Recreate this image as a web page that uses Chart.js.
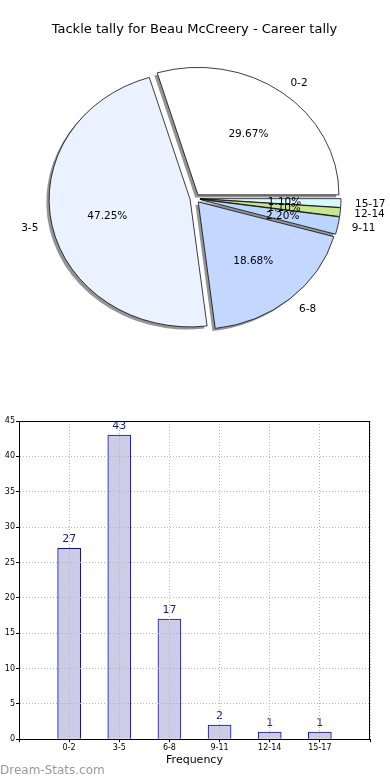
<!DOCTYPE html>
<html>
<head>
<meta charset="utf-8">
<script src="https://cdn.jsdelivr.net/npm/chart.js@4"></script>
<style>
  html, body { margin: 0; padding: 0; background: #fff; width: 390px; height: 780px; overflow: hidden; }
  #pie { position: absolute; left: 0; top: 0; }
  #bar { position: absolute; left: 0; top: 405px; }
  #wm { position: absolute; left: 0; top: 763px; font: 12px "DejaVu Sans", sans-serif; color: #9a9a9a; }
</style>
</head>
<body>
<canvas id="pie" width="390" height="400"></canvas>
<canvas id="bar" width="390" height="375"></canvas>
<div id="wm">Dream-Stats.com</div>
<script>
// ---- data ----
const chartTitle = 'Tackle tally for Beau McCreery - Career tally';
const categories = ['0-2', '3-5', '6-8', '9-11', '12-14', '15-17'];
const counts = [27, 43, 17, 2, 1, 1];
const pieColors = ['#ffffff', '#ebf2ff', '#c4d8ff', '#b8d6ff', '#c8e68c', '#d8f8ff'];
const yMax = 45;
const yStep = 5;
const xAxisTitle = 'Frequency';

const FONT = '"DejaVu Sans", sans-serif';
const total = counts.reduce((a, b) => a + b, 0);

// ---- pie (drawn clockwise from 3 o'clock, so feed the series reversed) ----
const pieLabels = categories.slice().reverse();
const pieData = counts.slice().reverse();
const pieBg = pieColors.slice().reverse();

const RY = 0.904;     // vertical squash of the pie
const EXPLODE = 5;    // explode distance
const pieFx = {
  id: 'pieFx',
  beforeDatasetsDraw(chart) {
    const ctx = chart.ctx;
    const arcs = chart.getDatasetMeta(0).data;
    const cx = arcs[0].x, cy = arcs[0].y;
    const pass = (shadow) => {
      arcs.forEach(a => {
        const m = (a.startAngle + a.endAngle) / 2;
        ctx.save();
        if (shadow) ctx.translate(-2.8, 2.6);
        ctx.translate(cx, cy); ctx.scale(1, RY); ctx.translate(-cx, -cy);
        ctx.translate(Math.cos(m) * EXPLODE, Math.sin(m) * EXPLODE);
        if (shadow) {
          ctx.beginPath();
          ctx.moveTo(a.x, a.y);
          ctx.arc(a.x, a.y, a.outerRadius, a.startAngle, a.endAngle);
          ctx.closePath();
          ctx.fillStyle = 'rgba(0,0,0,0.42)';
          ctx.fill();
        } else {
          a.draw(ctx);
        }
        ctx.restore();
      });
    };
    pass(true);
    pass(false);
    return false;
  },
  afterDraw(chart) {
    const ctx = chart.ctx;
    const arcs = chart.getDatasetMeta(0).data;
    ctx.save();
    ctx.fillStyle = '#000';
    ctx.textBaseline = 'middle';
    ctx.font = '13px ' + FONT;
    ctx.textAlign = 'center';
    ctx.fillText(chartTitle, 194.5, 30);
    ctx.font = '10.5px ' + FONT;
    arcs.forEach((a, i) => {
      const m = (a.startAngle + a.endAngle) / 2;
      const c = Math.cos(m), s = Math.sin(m);
      const R = a.outerRadius;
      // percentage inside
      const rp = 0.6 * R + EXPLODE;
      ctx.textAlign = 'center';
      ctx.fillText((pieData[i] / total * 100).toFixed(2) + '%', a.x + c * rp, a.y + s * rp * RY + 1);
      // category label outside
      const rl = 1.1 * R + EXPLODE;
      ctx.textAlign = c >= 0 ? 'left' : 'right';
      ctx.fillText(pieLabels[i], a.x + c * rl, a.y + s * rl * RY + 0.5);
    });
    ctx.restore();
  }
};

new Chart(document.getElementById('pie'), {
  type: 'pie',
  data: {
    labels: pieLabels,
    datasets: [{
      data: pieData,
      backgroundColor: pieBg,
      borderColor: '#000',
      borderWidth: 0.8
    }]
  },
  options: {
    responsive: false,
    animation: false,
    devicePixelRatio: 1,
    rotation: 90,
    radius: 141,
    layout: { padding: { left: 2, right: 2, top: 0, bottom: 3 } },
    plugins: { legend: { display: false }, tooltip: { enabled: false }, title: { display: false } },
    events: []
  },
  plugins: [pieFx]
});

// ---- bar chart ----
const barFx = {
  id: 'barFx',
  afterDatasetsDraw(chart) {
    const ctx = chart.ctx;
    const meta = chart.getDatasetMeta(0);
    ctx.save();
    ctx.fillStyle = '#1a1a96';
    ctx.font = '11px ' + FONT;
    ctx.textAlign = 'center';
    ctx.textBaseline = 'middle';
    meta.data.forEach((b, i) => {
      ctx.fillText(String(counts[i]), b.x, b.y - 9);
    });
    ctx.restore();
  },
  afterDraw(chart) {
    const ctx = chart.ctx;
    const a = chart.chartArea;
    ctx.save();
    ctx.strokeStyle = '#000';
    ctx.lineWidth = 1;
    ctx.strokeRect(Math.round(a.left) + 0.5, Math.round(a.top) + 0.5, Math.round(a.right - a.left) - 1, Math.round(a.bottom - a.top));
    ctx.restore();
  }
};

new Chart(document.getElementById('bar'), {
  type: 'bar',
  data: {
    datasets: [{
      data: counts.map((v, i) => ({ x: i + 1, y: v })),
      backgroundColor: '#ccccE6',
      borderColor: '#10108a',
      borderWidth: 1,
      barThickness: 23
    }]
  },
  options: {
    responsive: false,
    animation: false,
    devicePixelRatio: 1,
    events: [],
    layout: { padding: { left: 0, right: 20, top: 16, bottom: 13 } },
    plugins: { legend: { display: false }, tooltip: { enabled: false } },
    scales: {
      x: {
        type: 'linear',
        offset: false,
        min: 0,
        max: categories.length + 1,
        ticks: {
          stepSize: 1,
          autoSkip: false,
          maxRotation: 0,
          padding: 1,
          color: '#000',
          font: { size: 8, family: FONT },
          callback: (v) => (v >= 1 && v <= categories.length) ? categories[v - 1] : ''
        },
        grid: { offset: false, color: '#b4b4b4', lineWidth: 1, z: 1, tickLength: 3, tickColor: '#000' },
        border: { color: '#000', dash: [1, 2], z: 2 },
        title: { display: true, text: xAxisTitle, color: '#000', font: { size: 11, family: FONT }, padding: { top: 0, bottom: 0 } }
      },
      y: {
        min: 0,
        max: yMax,
        ticks: { stepSize: yStep, padding: 1, color: '#000', font: { size: 8, family: FONT } },
        grid: { color: '#b4b4b4', lineWidth: 1, z: 1, tickLength: 3, tickColor: '#000' },
        border: { color: '#000', dash: [1, 2], z: 2 },
        afterFit(scale) { scale.width = 19; }
      }
    }
  },
  plugins: [barFx]
});
</script>
</body>
</html>
